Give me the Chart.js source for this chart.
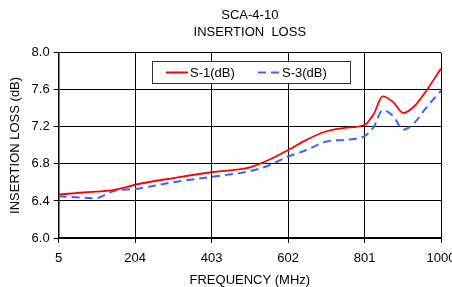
<!DOCTYPE html>
<html>
<head>
<meta charset="utf-8">
<script src="https://cdn.jsdelivr.net/npm/chart.js@4/dist/chart.umd.min.js"></script>
<style>
  html, body { margin: 0; padding: 0; background: #fff; }
  #wrap { width: 452px; height: 287px; overflow: hidden; }
  #box { width: 472px; height: 287px; }
</style>
</head>
<body>
<div id="wrap"><div id="box"><canvas id="chart" width="472" height="287"></canvas></div></div>
<script>
// frequency points (MHz) and the two measured curves
const freq = [5, 50, 100, 150, 204, 300, 403, 500, 550, 602, 650, 700, 750, 801, 825, 848, 875, 902, 930, 960, 1000];
const s1 = [6.47, 6.485, 6.50, 6.52, 6.575, 6.645, 6.71, 6.76, 6.84, 6.95, 7.06, 7.15, 7.19, 7.22, 7.34, 7.53, 7.47, 7.35, 7.42, 7.58, 7.83];
const s3 = [6.45, 6.44, 6.43, 6.51, 6.53, 6.60, 6.66, 6.72, 6.78, 6.88, 6.95, 7.04, 7.06, 7.10, 7.20, 7.38, 7.32, 7.17, 7.24, 7.40, 7.59];

const xTicks = [5, 204, 403, 602, 801, 1000];
const yTicks = [6.0, 6.4, 6.8, 7.2, 7.6, 8.0];

const FONT = 'Liberation Sans, Arial, sans-serif';

// legend drawn as a framed box inside the plot
const boxLegend = {
    id: 'boxLegend',
    afterDraw(chart) {
        const ctx = chart.ctx;
        const x = 152, y = 61, w = 198, h = 22;
        ctx.save();
        ctx.fillStyle = '#fff';
        ctx.fillRect(x, y, w, h);
        ctx.strokeStyle = '#333';
        ctx.lineWidth = 1;
        ctx.strokeRect(x + 0.5, y + 0.5, w, h);
        ctx.font = '13px ' + FONT;
        ctx.textBaseline = 'middle';
        ctx.fillStyle = '#000';
        const items = [[166, 0], [258, 1]];
        items.forEach(([lx, i]) => {
            const ds = chart.data.datasets[i];
            ctx.strokeStyle = ds.borderColor;
            ctx.lineWidth = 2;
            ctx.setLineDash(ds.borderDash || []);
            ctx.beginPath();
            ctx.moveTo(lx, y + 11.5);
            ctx.lineTo(lx + 22, y + 11.5);
            ctx.stroke();
            ctx.setLineDash([]);
            ctx.fillText(ds.label, lx + 24, y + 12);
        });
        ctx.restore();
    }
};

new Chart(document.getElementById('chart'), {
    type: 'line',
    data: {
        datasets: [
            {
                label: 'S-1(dB)',
                data: freq.map((f, i) => ({ x: f, y: s1[i] })),
                borderColor: '#ff0000',
                borderWidth: 1.8,
                pointRadius: 0,
                cubicInterpolationMode: 'monotone'
            },
            {
                label: 'S-3(dB)',
                data: freq.map((f, i) => ({ x: f, y: s3[i] })),
                borderColor: '#3366ff',
                borderWidth: 2,
                borderDash: [8, 5],
                pointRadius: 0,
                cubicInterpolationMode: 'monotone'
            }
        ]
    },
    options: {
        responsive: false,
        animation: false,
        layout: { padding: { left: 4, right: 31, top: 3, bottom: 0 } },
        plugins: {
            legend: { display: false },
            tooltip: { enabled: false },
            title: {
                display: true,
                text: ['SCA-4-10', 'INSERTION  LOSS'],
                fullSize: false,
                color: '#000',
                font: { family: FONT, size: 13, weight: 'normal', lineHeight: 1.3 },
                padding: { top: 4, bottom: 12 }
            }
        },
        scales: {
            x: {
                type: 'linear',
                min: 5,
                max: 1000,
                afterBuildTicks: s => { s.ticks = xTicks.map(v => ({ value: v })); },
                ticks: { color: '#000', font: { family: FONT, size: 13 }, maxRotation: 0, padding: 8, callback: v => String(v) },
                grid: { color: '#000', lineWidth: 1, tickLength: 5 },
                border: { color: '#000', width: 1.5 },
                title: { display: true, text: 'FREQUENCY (MHz)', color: '#000', font: { family: FONT, size: 13, lineHeight: 0.8 }, padding: { top: 1, bottom: 1 } }
            },
            y: {
                min: 6,
                max: 8,
                afterBuildTicks: s => { s.ticks = yTicks.map(v => ({ value: v })); },
                ticks: { color: '#000', font: { family: FONT, size: 13 }, padding: 4, callback: v => v.toFixed(1) },
                grid: { color: '#000', lineWidth: 1, tickLength: 5 },
                border: { color: '#000', width: 1.5 },
                title: { display: true, text: 'INSERTION LOSS (dB)', color: '#000', font: { family: FONT, size: 13 }, padding: { bottom: 4 } }
            }
        }
    },
    plugins: [boxLegend]
});
</script>
</body>
</html>
